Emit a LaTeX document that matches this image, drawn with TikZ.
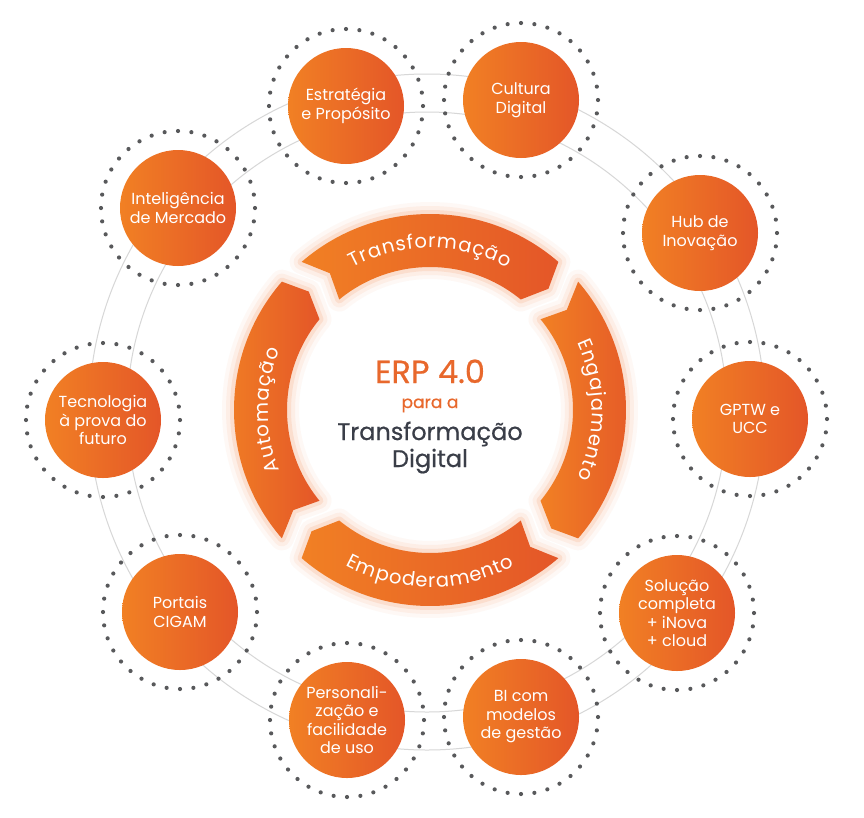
\documentclass[tikz,border=0pt]{standalone}
\usepackage{fontspec}
\setmainfont{Poppins}
\usetikzlibrary{decorations.text}
\definecolor{oL}{RGB}{241,128,36}
\definecolor{oR}{RGB}{228,86,40}
\definecolor{glowc}{RGB}{240,110,40}
\definecolor{dotc}{RGB}{88,89,91}
\definecolor{ringc}{RGB}{215,215,215}
\definecolor{ttl}{RGB}{232,104,44}
\definecolor{darktxt}{RGB}{58,62,72}
\def\sgRo{196}\def\sgRi{143}\def\sgRm{169.5}\def\sgG{14}\def\sgC{12}
\newcommand\sgcalc[2]{%
 \pgfmathsetmacro\sgaOs{#1-\sgG/\sgRo*57.2958}%
 \pgfmathsetmacro\sgaOe{#2+\sgG/\sgRo*57.2958}%
 \pgfmathsetmacro\sgaT{#2+(\sgG-\sgC)/\sgRm*57.2958}%
 \pgfmathsetmacro\sgaIe{#2+\sgG/\sgRi*57.2958}%
 \pgfmathsetmacro\sgaIs{#1-\sgG/\sgRi*57.2958}%
 \pgfmathsetmacro\sgaN{#1-(\sgG+\sgC)/\sgRm*57.2958}%
 \edef\sgp{(\sgaOs:\sgRo) arc[start angle=\sgaOs, end angle=\sgaOe, radius=\sgRo] -- (\sgaT:\sgRm) -- (\sgaIe:\sgRi) arc[start angle=\sgaIe, end angle=\sgaIs, radius=\sgRi] -- (\sgaN:\sgRm) -- cycle}%
}
\newcommand\ribfont{\fontsize{19.5}{19.5}\selectfont\color{white}}
\begin{document}
\begin{tikzpicture}[x=1pt,y=1pt,
  bub/.style={circle, minimum size=116pt, inner sep=0pt, left color=oL, right color=oR,
    text=white, align=center, font=\fontsize{16}{18.5}\selectfont},
  glowa/.style={draw=glowc, line width=24pt, opacity=0.045, line join=round},
  glowb/.style={draw=glowc, line width=16pt, opacity=0.07, line join=round},
  glowc/.style={draw=glowc, line width=8pt, opacity=0.12, line join=round},
  segfill/.style={left color=oL, right color=oR},
  dotring/.style={fill=dotc},
  ctr/.style={anchor=base, font=\fontsize{#1}{#1}\selectfont\addfontfeature{FakeBold=0.6}}]
\useasboundingbox (0,0) rectangle (864,-817);
\fill[white] (0,0) rectangle (864,-817);
\coordinate (ring) at (427,-412);
\draw[ringc, line width=1pt] (ring) circle (300);
\draw[ringc, line width=1pt] (ring) circle (338);
% bubbles
\node[bub] (estr)  at (346,-106) {Estratégia\\e Propósito};
\node[bub] (cult)  at (521,-100) {Cultura\\Digital};
\node[bub] (hub)   at (700,-233) {Hub de\\Inovação};
\node[bub] (gptw)  at (750,-419) {GPTW e\\UCC};
\node[bub] (sol)   at (677,-613) {Solução\\completa\\+ iNova\\+ cloud};
\node[bub] (bi)    at (521,-717) {BI com\\modelos\\de gestão};
\node[bub] (pers)  at (347,-720) {Personali-\\zação e\\facilidade\\de uso};
\node[bub] (port)  at (180,-612) {Portais\\CIGAM};
\node[bub] (tec)   at (103,-420) {Tecnologia\\à prova do\\futuro};
\node[bub] (intel) at (178,-208) {Inteligência\\de Mercado};
\foreach \b in {estr,cult,hub,gptw,sol,bi,pers,port,tec,intel}{
  \foreach \k in {0,...,35}{
    \fill[dotring] ([shift={(\k*10:77)}]\b.center) circle (2.1);
  }
}
% central ring of arrows
\begin{scope}[shift={(430,-410)}]
  \sgcalc{135}{45}
  \path[glowa] \sgp; \path[glowb] \sgp; \path[glowc] \sgp; \path[segfill] \sgp;
  \sgcalc{45}{-45}
  \path[glowa] \sgp; \path[glowb] \sgp; \path[glowc] \sgp; \path[segfill] \sgp;
  \sgcalc{-45}{-135}
  \path[glowa] \sgp; \path[glowb] \sgp; \path[glowc] \sgp; \path[segfill] \sgp;
  \sgcalc{225}{135}
  \path[glowa] \sgp; \path[glowb] \sgp; \path[glowc] \sgp; \path[segfill] \sgp;
  \path[decorate, decoration={text along path, text align=center,
      text={|\ribfont|T{\kern0.9pt}r{\kern0.9pt}a{\kern0.9pt}n{\kern0.9pt}s{\kern0.9pt}f{\kern0.9pt}o{\kern0.9pt}r{\kern0.9pt}m{\kern0.9pt}a{\kern0.9pt}ç{\kern0.9pt}ã{\kern0.9pt}o}}]
      (150:162) arc[start angle=150, end angle=30, radius=162];
  \path[decorate, decoration={text along path, text align=center,
      text={|\ribfont|E{\kern0.9pt}n{\kern0.9pt}g{\kern0.9pt}a{\kern0.9pt}j{\kern0.9pt}a{\kern0.9pt}m{\kern0.9pt}e{\kern0.9pt}n{\kern0.9pt}t{\kern0.9pt}o}}]
      (60:162) arc[start angle=60, end angle=-60, radius=162];
  \path[decorate, decoration={text along path, text align=center,
      text={|\ribfont|E{\kern0.9pt}m{\kern0.9pt}p{\kern0.9pt}o{\kern0.9pt}d{\kern0.9pt}e{\kern0.9pt}r{\kern0.9pt}a{\kern0.9pt}m{\kern0.9pt}e{\kern0.9pt}n{\kern0.9pt}t{\kern0.9pt}o}}]
      (210:177) arc[start angle=210, end angle=330, radius=177];
  \path[decorate, decoration={text along path, text align=center,
      text={|\ribfont|A{\kern0.9pt}u{\kern0.9pt}t{\kern0.9pt}o{\kern0.9pt}m{\kern0.9pt}a{\kern0.9pt}ç{\kern0.9pt}ã{\kern0.9pt}o}}]
      (240:162) arc[start angle=240, end angle=120, radius=162];
\end{scope}
% centre text
\node[ctr=32, text=ttl] (erp) at (430,-383) {ERP 4.0};
\node[ctr=17, text=ttl] (para) at (430,-408) {para a};
\node[ctr=24, text=darktxt] (tdig) at (430,-440) {Transformação};
\node[ctr=24, text=darktxt] (dig) at (430,-467) {Digital};
\end{tikzpicture}
\end{document}
